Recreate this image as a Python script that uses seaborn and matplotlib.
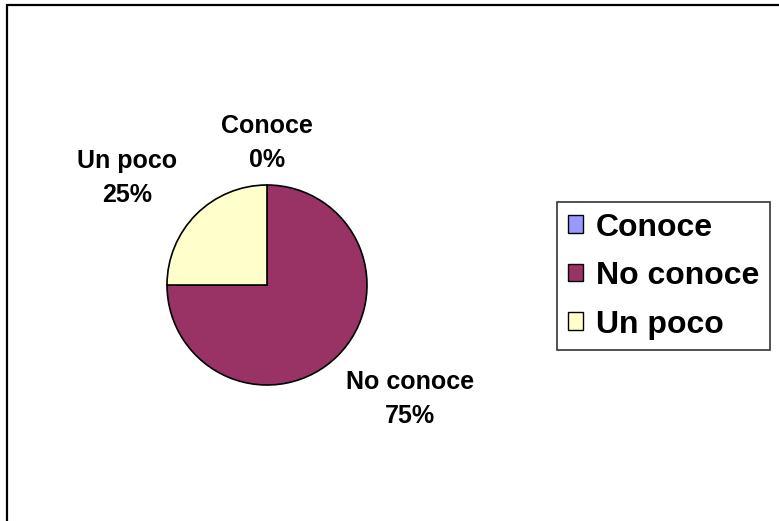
import matplotlib
matplotlib.use("Agg")
import matplotlib.pyplot as plt
import matplotlib.patches as mpatches
import seaborn as sns

categories = ["Conoce", "No conoce", "Un poco"]
values = [0, 75, 25]
colors = ["#9999FF", "#993366", "#FFFFCC"]

sns.set_theme(style="white")
plt.rcParams['font.family'] = ['Liberation Sans', 'DejaVu Sans']
plt.rcParams['text.color'] = 'black'

W, H = 779, 521
fig = plt.figure(figsize=(W / 100, H / 100), dpi=100)
fig.patch.set_facecolor("white")

# outer chart frame (only left/top edges visible in the crop)
frame = mpatches.Rectangle((7 / W, -0.2), 1.2, 1.2 - 5 / H, transform=fig.transFigure,
                           fill=False, edgecolor="black", linewidth=1.6)
fig.patches.append(frame)

# pie area: center (267,285), radius 100 px
ax = fig.add_axes([167 / W, (H - 385) / H, 200 / W, 200 / H])
wedges, _ = ax.pie(values, colors=colors, startangle=90, counterclock=False, radius=1,
                   wedgeprops=dict(edgecolor="black", linewidth=1.2))
ax.set_xlim(-1, 1)
ax.set_ylim(-1, 1)
ax.axis("off")

label_pos = [(0.0, 1.42), (1.43, -1.14), (-1.40, 1.07)]
for cat, val, (x, y) in zip(categories, values, label_pos):
    ax.text(x, y, f"{cat}\n{val}%", ha="center", va="center", fontsize=18,
            fontweight="bold", linespacing=1.5, color="black", clip_on=False)

leg = fig.legend(wedges, categories, loc="upper left",
                 bbox_to_anchor=(557 / W, 1 - 202 / H), frameon=True, fancybox=False,
                 edgecolor="black", prop=dict(size=23, weight="bold"),
                 handlelength=0.47, handleheight=0.47, handletextpad=0.42,
                 labelspacing=0.58, borderpad=0.33, borderaxespad=0)
leg.get_frame().set_linewidth(1.2)
for t in leg.get_texts():
    t.set_color("black")
for h in leg.legend_handles:
    h.set_edgecolor("black")
    h.set_linewidth(1.0)

fig.savefig("out.png", dpi=100)
